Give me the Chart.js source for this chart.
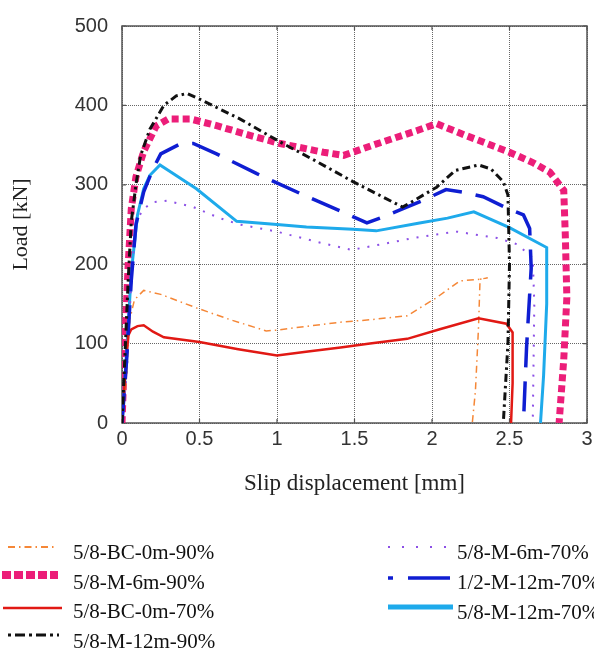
<!DOCTYPE html>
<html>
<head>
<meta charset="utf-8">
<script src="https://cdn.jsdelivr.net/npm/chart.js@4/dist/chart.umd.min.js"></script>
<style>
  html, body { margin: 0; padding: 0; background: #fff; }
</style>
</head>
<body>
<canvas id="myChart" width="594" height="652"></canvas>
<script>
// series labels (legend order)
const seriesNames = ['5/8-BC-0m-90%', '5/8-M-6m-90%', '5/8-BC-0m-70%', '5/8-M-12m-90%',
                     '5/8-M-6m-70%', '1/2-M-12m-70%', '5/8-M-12m-70%'];

// slip [mm] and load [kN], one pair of arrays per specimen
const slipBC90 = [0, 0.03, 0.05, 0.08, 0.14, 0.25, 0.48, 0.7, 0.93, 1.0, 1.2, 1.41, 1.6, 1.84, 2.03, 2.18, 2.31, 2.36, 2.31, 2.30, 2.28, 2.26];
const loadBC90 = [0, 60, 130, 155, 167, 162, 145, 130, 116, 117, 122, 127, 130, 135, 158, 179, 181, 183, 181, 120, 40, 0];

const slipM6_90 = [0, 0.02, 0.04, 0.06, 0.09, 0.14, 0.22, 0.3, 0.44, 0.6, 0.83, 1.02, 1.3, 1.43, 1.62, 1.9, 2.03, 2.22, 2.5, 2.65, 2.76, 2.85, 2.86, 2.87, 2.85, 2.82];
const loadM6_90 = [0, 110, 200, 270, 310, 342, 374, 383, 383, 375, 362, 352, 341, 337, 350, 368, 377, 362, 341, 328, 316, 293, 237, 158, 80, 0];

const slipBC70 = [0, 0.02, 0.04, 0.06, 0.1, 0.14, 0.2, 0.27, 0.5, 0.75, 1.0, 1.2, 1.41, 1.6, 1.84, 2.05, 2.30, 2.48, 2.52, 2.52, 2.51];
const loadBC70 = [0, 60, 110, 118, 122, 123, 115, 108, 102, 93, 85, 90, 95, 100, 106, 118, 132, 125, 114, 50, 0];

const slipM12_90 = [0, 0.02, 0.04, 0.06, 0.09, 0.12, 0.18, 0.27, 0.35, 0.42, 0.5, 0.76, 1.02, 1.25, 1.49, 1.65, 1.81, 1.9, 2.03, 2.15, 2.3, 2.38, 2.46, 2.49, 2.50, 2.49, 2.46];
const loadM12_90 = [0, 90, 180, 254, 300, 337, 370, 400, 412, 415, 408, 383, 354, 330, 304, 288, 272, 282, 297, 318, 325, 320, 304, 287, 200, 100, 0];

const slipM6_70 = [0, 0.03, 0.06, 0.09, 0.14, 0.2, 0.29, 0.46, 0.63, 0.76, 1.0, 1.28, 1.48, 1.7, 1.88, 2.01, 2.16, 2.42, 2.55, 2.65, 2.66, 2.65];
const loadM6_70 = [0, 60, 180, 254, 270, 278, 280, 272, 258, 250, 241, 227, 218, 226, 233, 237, 241, 233, 225, 208, 150, 0];

const slipHalfM12_70 = [0, 0.03, 0.06, 0.09, 0.14, 0.2, 0.25, 0.37, 0.46, 0.61, 0.87, 1.15, 1.42, 1.58, 1.69, 1.79, 1.95, 2.09, 2.22, 2.33, 2.49, 2.59, 2.63, 2.64, 2.61, 2.59];
const loadHalfM12_70 = [0, 80, 180, 250, 291, 320, 339, 351, 352, 339, 314, 289, 266, 252, 260, 268, 281, 294, 290, 285, 270, 262, 245, 195, 95, 0];

const slipM12_70 = [0, 0.03, 0.06, 0.1, 0.14, 0.18, 0.245, 0.3, 0.48, 0.74, 1.0, 1.19, 1.49, 1.64, 1.92, 2.1, 2.27, 2.5, 2.74, 2.74, 2.72, 2.70];
const loadM12_70 = [0, 90, 190, 262, 295, 312, 325, 318, 295, 254, 250, 247, 244, 242, 252, 258, 266, 246, 221, 150, 60, 0];

const xTicks = [0, 0.5, 1, 1.5, 2, 2.5, 3];
const yTicks = [0, 100, 200, 300, 400, 500];

// zip x and y arrays into points for chart.js
function pts(xs, ys) {
    return xs.map(function (v, i) { return { x: v, y: ys[i] }; });
}

const datasets = [
    { label: seriesNames[0], data: pts(slipBC90, loadBC90), borderColor: 'rgb(245,135,55)', borderWidth: 1.5, borderDash: [7, 4, 1.5, 4], order: 3 },
    { label: seriesNames[1], data: pts(slipM6_90, loadM6_90), borderColor: 'rgb(236,30,121)', borderWidth: 7, borderDash: [7, 4], order: 6 },
    { label: seriesNames[2], data: pts(slipBC70, loadBC70), borderColor: 'rgb(225,25,20)', borderWidth: 2.5, order: 2 },
    { label: seriesNames[3], data: pts(slipM12_90, loadM12_90), borderColor: '#111', borderWidth: 3, borderDash: [8, 4, 2.5, 4], order: 0 },
    { label: seriesNames[4], data: pts(slipM6_70, loadM6_70), borderColor: 'rgb(140,80,230)', borderWidth: 2, borderDash: [2, 8], order: 4 },
    { label: seriesNames[5], data: pts(slipHalfM12_70, loadHalfM12_70), borderColor: 'rgb(15,30,210)', borderWidth: 3.5, borderDash: [30, 14], order: 1 },
    { label: seriesNames[6], data: pts(slipM12_70, loadM12_70), borderColor: 'rgb(30,170,235)', borderWidth: 3, order: 5 }
];
datasets.forEach(function (d) {
    d.pointRadius = 0;
    d.tension = 0;
    d.fill = false;
    d.borderCapStyle = 'butt';
});

// legend placement: sample line x1..x2 at y, text at tx,ty
const legendSpots = [
    { x1: 8, x2: 54, y: 547, tx: 73, ty: 553, w: 1.8 },
    { x1: 2, x2: 58, y: 575, tx: 73, ty: 583, w: 8, dash: [9, 3] },
    { x1: 3, x2: 62, y: 608, tx: 73, ty: 612 },
    { x1: 8, x2: 59, y: 635, tx: 73, ty: 642, dash: [3, 4, 10, 4] },
    { x1: 388, x2: 450, y: 547, tx: 457, ty: 553, dash: [2, 12] },
    { x1: 388, x2: 450, y: 578, tx: 457, ty: 583, dash: [5, 15, 37, 0] },
    { x1: 388, x2: 453, y: 607, tx: 457, ty: 613, w: 5 }
];

const framePlugin = {
    id: 'frame',
    beforeDatasetsDraw(chart) {
        const a = chart.chartArea, ctx = chart.ctx;
        const xs = chart.scales.x, ys = chart.scales.y;
        ctx.save();
        ctx.strokeStyle = '#555';
        ctx.lineWidth = 1.5;
        ctx.strokeRect(a.left, a.top, a.right - a.left, a.bottom - a.top);
        // small inward tick marks on all four sides
        ctx.lineWidth = 1.2;
        ctx.beginPath();
        xTicks.forEach(function (v) {
            const px = xs.getPixelForValue(v);
            ctx.moveTo(px, a.bottom); ctx.lineTo(px, a.bottom - 4);
            ctx.moveTo(px, a.top); ctx.lineTo(px, a.top + 4);
        });
        yTicks.forEach(function (v) {
            const py = ys.getPixelForValue(v);
            ctx.moveTo(a.left, py); ctx.lineTo(a.left + 4, py);
            ctx.moveTo(a.right, py); ctx.lineTo(a.right - 4, py);
        });
        ctx.stroke();
        ctx.restore();
    },
    afterDraw(chart) {
        const ctx = chart.ctx;
        ctx.save();
        chart.data.datasets.forEach(function (d, i) {
            const s = legendSpots[i];
            ctx.beginPath();
            ctx.strokeStyle = d.borderColor;
            ctx.lineWidth = s.w || d.borderWidth;
            ctx.setLineDash(s.dash || d.borderDash || []);
            ctx.moveTo(s.x1, s.y);
            ctx.lineTo(s.x2, s.y);
            ctx.stroke();
            ctx.setLineDash([]);
            ctx.fillStyle = '#111';
            ctx.font = '21px "Liberation Serif", "Times New Roman", serif';
            ctx.textBaseline = 'middle';
            ctx.textAlign = 'left';
            ctx.fillText(d.label, s.tx, s.ty);
        });
        ctx.restore();
    }
};

const config = {
    type: 'line',
    data: { datasets: datasets },
    options: {
        responsive: false,
        animation: false,
        layout: { padding: { top: 23, right: 7, bottom: 154, left: 0 } },
        plugins: { legend: { display: false }, tooltip: { enabled: false } },
        scales: {
            x: {
                type: 'linear',
                min: 0,
                max: 3,
                afterFit: function (s) { s.height = 75; s.paddingRight = 0; },
                afterBuildTicks: function (s) { s.ticks = xTicks.map(function (v) { return { value: v }; }); },
                grid: { color: '#666', lineWidth: 1, drawTicks: false },
                border: { display: false, dash: [1, 1] },
                ticks: {
                    padding: 4,
                    color: '#333',
                    font: { family: '"Liberation Sans", Arial, sans-serif', size: 20 },
                    callback: function (v) { return String(v); }
                },
                title: {
                    display: true,
                    text: 'Slip displacement [mm]',
                    color: '#222',
                    padding: { top: 0, bottom: 0 },
                    font: { family: '"Liberation Serif", "Times New Roman", serif', size: 23 }
                }
            },
            y: {
                min: 0,
                max: 500,
                afterFit: function (s) { s.width = 122; },
                afterBuildTicks: function (s) { s.ticks = yTicks.map(function (v) { return { value: v }; }); },
                grid: { color: '#666', lineWidth: 1, drawTicks: false },
                border: { display: false, dash: [1, 1] },
                ticks: {
                    padding: 14,
                    color: '#333',
                    font: { family: '"Liberation Sans", Arial, sans-serif', size: 20 },
                    callback: function (v) { return String(v); }
                },
                title: {
                    display: true,
                    text: 'Load [kN]',
                    color: '#222',
                    padding: { top: 8, bottom: 8 },
                    font: { family: '"Liberation Serif", "Times New Roman", serif', size: 22 }
                }
            }
        }
    },
    plugins: [framePlugin]
};

var myChart = new Chart(document.getElementById('myChart'), config);
</script>
</body>
</html>
